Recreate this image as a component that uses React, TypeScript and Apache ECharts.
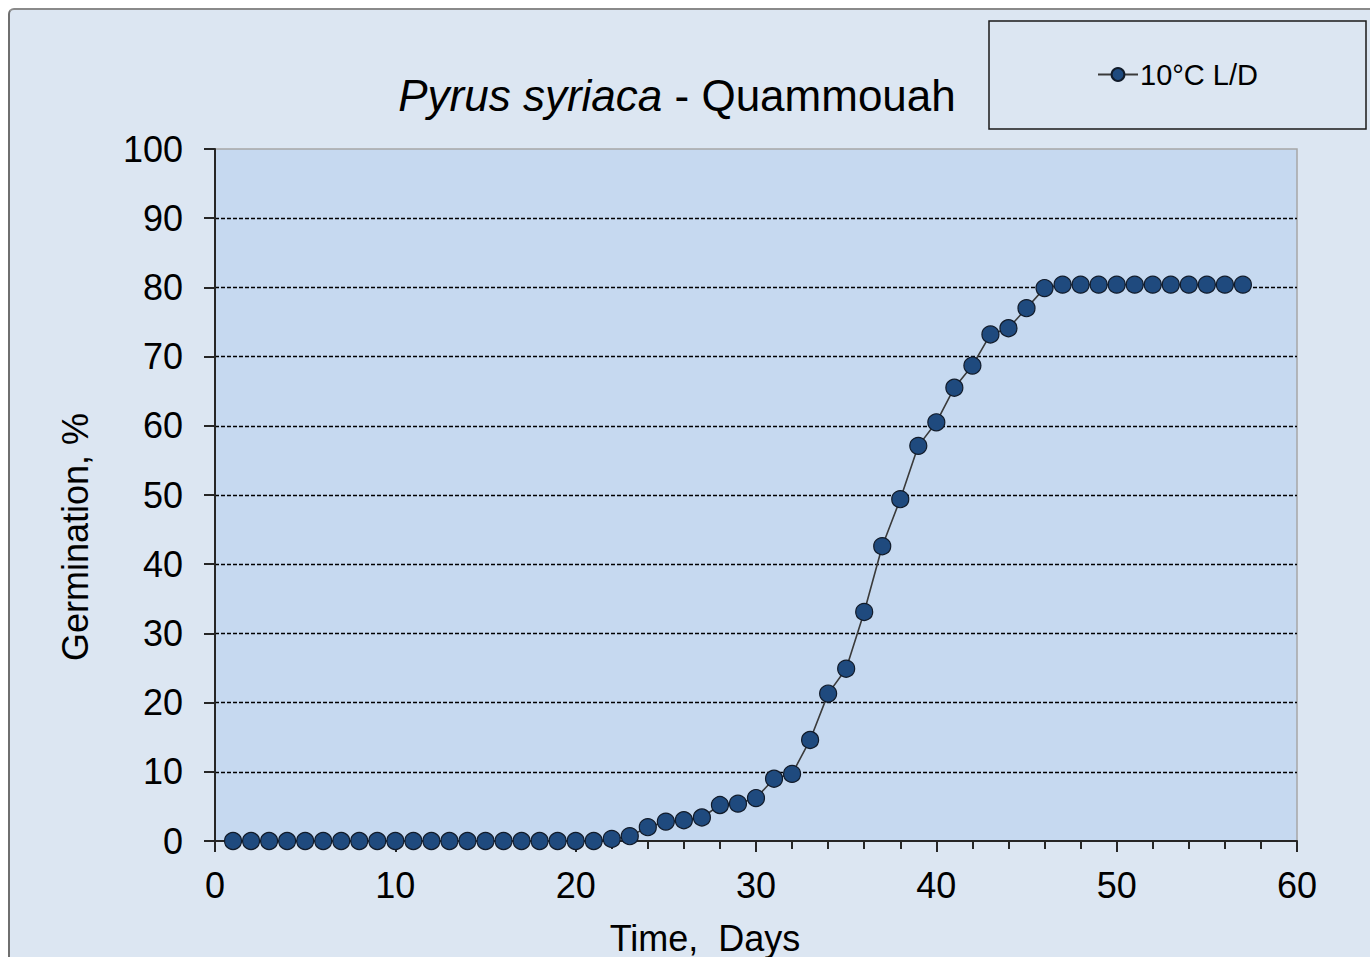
import React, { useEffect, useRef } from "react";
import * as echarts from "echarts";

const days = [
  1, 2, 3, 4, 5, 6, 7, 8, 9, 10, 11, 12, 13, 14, 15, 16, 17, 18, 19, 20,
  21, 22, 23, 24, 25, 26, 27, 28, 29, 30, 31, 32, 33, 34, 35, 36, 37, 38, 39, 40,
  41, 42, 43, 44, 45, 46, 47, 48, 49, 50, 51, 52, 53, 54, 55, 56, 57,
];
const germination = [
  0, 0, 0, 0, 0, 0, 0, 0, 0, 0, 0, 0, 0, 0, 0, 0, 0, 0, 0, 0,
  0, 0.3, 0.7, 2.0, 2.8, 3.0, 3.4, 5.2, 5.4, 6.2, 9.0, 9.7, 14.6, 21.3, 24.9, 33.1, 42.6, 49.4, 57.1, 60.5,
  65.5, 68.7, 73.2, 74.1, 77.0, 79.9, 80.4, 80.4, 80.4, 80.4, 80.4, 80.4, 80.4, 80.4, 80.4, 80.4, 80.4,
];
const seriesName = "10°C L/D";
const titleItalic = "Pyrus syriaca";
const titleRest = " - Quammouah";
const xAxisTitle = "Time,  Days";
const yAxisTitle = "Germination, %";

const FONT = "'Liberation Sans', Arial, sans-serif";

export default function App() {
  const ref = useRef<HTMLDivElement>(null);
  useEffect(() => {
    if (!ref.current) return;
    const chart = echarts.init(ref.current, null, { renderer: "svg" });
    const splitColors = Array.from({ length: 11 }, (_, i) => (i === 10 || i === 0 ? "transparent" : "#000000"));
    chart.setOption({
      animation: false,
      textStyle: { fontFamily: FONT },
      grid: {
        left: 215,
        top: 149,
        width: 1082,
        height: 692,
        show: true,
        backgroundColor: "#c6d9f0",
        borderColor: "#a6a6a6",
        borderWidth: 1.5,
      },
      legend: {
        left: 1097,
        top: 60,
        padding: 0,
        itemWidth: 40,
        itemHeight: 16,
        itemGap: 10,
        textStyle: { fontSize: 29, color: "#000", fontFamily: FONT, padding: [0, 0, 0, -3] },
        data: [{ name: seriesName }],
      },
      xAxis: {
        type: "value",
        min: 0,
        max: 60,
        interval: 10,
        axisLine: { show: true, onZero: false, lineStyle: { color: "#262626", width: 2 } },
        axisTick: { show: true, length: 11, lineStyle: { color: "#262626", width: 2 } },
        minorTick: { show: true, splitNumber: 5, length: 8, lineStyle: { color: "#262626", width: 2 } },
        axisLabel: { fontSize: 36, color: "#000", margin: 26, fontFamily: FONT },
        splitLine: { show: false },
      },
      yAxis: {
        type: "value",
        min: 0,
        max: 100,
        interval: 10,
        axisLine: { show: true, lineStyle: { color: "#262626", width: 2 } },
        axisTick: { show: true, length: 11, lineStyle: { color: "#262626", width: 2 } },
        axisLabel: { fontSize: 36, color: "#000", margin: 32, fontFamily: FONT },
        splitLine: { show: true, lineStyle: { color: splitColors, type: [4, 2], width: 1.3 } },
      },
      graphic: [
        {
          type: "text",
          x: 677,
          y: 95,
          style: {
            text: `{i|${titleItalic}}{n|${titleRest}}`,
            align: "center",
            verticalAlign: "middle",
            rich: {
              i: { fontSize: 44, fontStyle: "italic", fontFamily: FONT, fill: "#000" },
              n: { fontSize: 44, fontFamily: FONT, fill: "#000" },
            },
          },
        },
        {
          type: "rect",
          shape: { x: 989, y: 21, width: 377, height: 108 },
          style: { fill: "transparent", stroke: "#1a1a1a", lineWidth: 1.5 },
        },
        {
          type: "text",
          x: 705,
          y: 938,
          style: { text: xAxisTitle, fontSize: 36, fontFamily: FONT, fill: "#000", align: "center", verticalAlign: "middle" },
        },
        {
          type: "text",
          x: 75,
          y: 537,
          rotation: Math.PI / 2,
          style: { text: yAxisTitle, fontSize: 36, fontFamily: FONT, fill: "#000", align: "center", verticalAlign: "middle" },
        },
      ],
      series: [
        {
          name: seriesName,
          type: "line",
          data: days.map((d, i) => [d, germination[i]]),
          symbol: "circle",
          symbolSize: 17,
          itemStyle: { color: "#1f4a7e", borderColor: "#111b2a", borderWidth: 1.2 },
          lineStyle: { color: "#3a3a3a", width: 1.6 },
          z: 5,
        },
      ],
    });
    return () => chart.dispose();
  }, []);

  return (
    <div style={{ position: "fixed", left: 0, top: 0, width: 1370, height: 957, background: "#ffffff", overflow: "hidden" }}>
      <div
        style={{
          position: "absolute",
          left: 8,
          top: 8,
          width: 1420,
          height: 1020,
          background: "#dce6f2",
          borderLeft: "2px solid #6f6f6f",
          borderTop: "2px solid #8a8a8a",
          borderTopLeftRadius: 6,
          boxSizing: "border-box",
        }}
      />
      <div ref={ref} style={{ position: "absolute", left: 0, top: 0, width: 1370, height: 957 }} />
    </div>
  );
}
